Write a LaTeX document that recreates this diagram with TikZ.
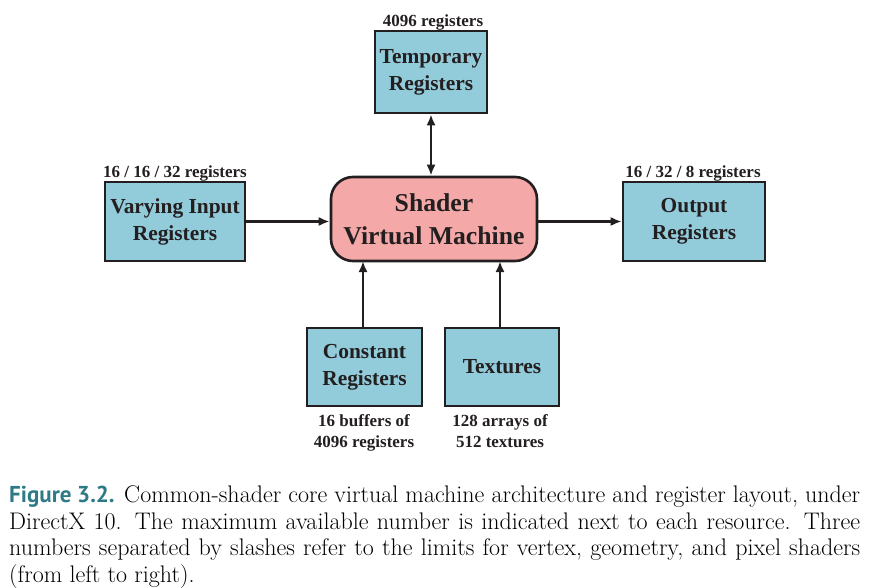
\documentclass[tikz,border=0pt]{standalone}
\usepackage{fontspec}
\usetikzlibrary{arrows.meta}
\setmainfont{Latin Modern Roman}
\newfontfamily\boxfont{Liberation Serif}
\newfontfamily\figfont{PT Sans}
\definecolor{boxblue}{HTML}{92CBDA}
\definecolor{boxpink}{HTML}{F4A9A8}
\definecolor{edge}{HTML}{231F20}
\definecolor{figteal}{HTML}{2E7B86}
\newcommand{\nohyph}{\hyphenpenalty=10000 \exhyphenpenalty=10000 }
\begin{document}
\begin{tikzpicture}[x=1pt,y=-1pt,
  regbox/.style={draw=edge,line width=2.6pt,fill=boxblue,inner sep=0pt,
    font=\boxfont\bfseries\fontsize{21.4}{27}\selectfont,align=center,text=edge},
  smalllbl/.style={font=\boxfont\bfseries\fontsize{17}{21}\selectfont,align=center,text=edge,inner sep=0pt},
  conn/.style={draw=edge,line width=2.4pt,-{Latex[length=11pt,width=9pt]}},
  bconn/.style={draw=edge,line width=2.4pt,{Latex[length=11pt,width=9pt]}-{Latex[length=11pt,width=9pt]}}]
\useasboundingbox (0,0) rectangle (875,588);
% boxes
\node[regbox,minimum width=112pt,minimum height=82pt] (temp) at (431,72) {Temporary\\Registers};
\node[regbox,minimum width=140pt,minimum height=79pt] (vary) at (175,221.5) {Varying Input\\Registers};
\node[draw=edge,line width=2.6pt,fill=boxpink,rounded corners=22pt,minimum width=206pt,minimum height=84pt,inner sep=0pt,
  font=\boxfont\bfseries\fontsize{25.7}{33}\selectfont,align=center,text=edge] (svm) at (434,219) {Shader\\Virtual Machine};
\node[regbox,minimum width=142pt,minimum height=79pt] (out) at (694,221.5) {Output\\Registers};
\node[regbox,minimum width=115pt,minimum height=78pt] (const) at (364.5,367) {Constant\\Registers};
\node[regbox,minimum width=114pt,minimum height=78pt] (tex) at (502,367) {Textures};
% labels
\node[smalllbl,anchor=south] (ltemp) at (433,30) {4096 registers};
\node[smalllbl,anchor=south] (lvary) at (175,181) {16 / 16 / 32 registers};
\node[smalllbl,anchor=south] (lout) at (693,181) {16 / 32 / 8 registers};
\node[smalllbl,anchor=north] (lconst) at (364,414) {16 buffers of\\4096 registers};
\node[smalllbl,anchor=north] (ltex) at (500,414) {128 arrays of\\512 textures};
% connectors
\draw[bconn] (temp.south) -- (temp.south |- svm.north);
\draw[conn] (vary.east) -- (vary.east -| svm.west);
\draw[conn] (svm.east |- out.west) -- (out.west);
\coordinate (ct) at (363,261);
\draw[conn] (const.north -| ct) -- (ct);
\coordinate (tt) at (500,261);
\draw[conn] (tex.north -| tt) -- (tt);
% caption
\node[anchor=north west,inner sep=0pt,text width=851pt,align=justify,
  font=\fontsize{24}{26.5}\selectfont] (cap) at (9,486)
  {\nohyph{\figfont\bfseries\fontsize{23}{26.5}\selectfont\color{figteal}Figure 3.2.} Common-shader core virtual machine architecture and register layout, under\linebreak
  DirectX 10. The maximum available number is indicated next to each resource. Three\linebreak
  numbers separated by slashes refer to the limits for vertex, geometry, and pixel shaders\linebreak
  (from left to right).};
\end{tikzpicture}
\end{document}
